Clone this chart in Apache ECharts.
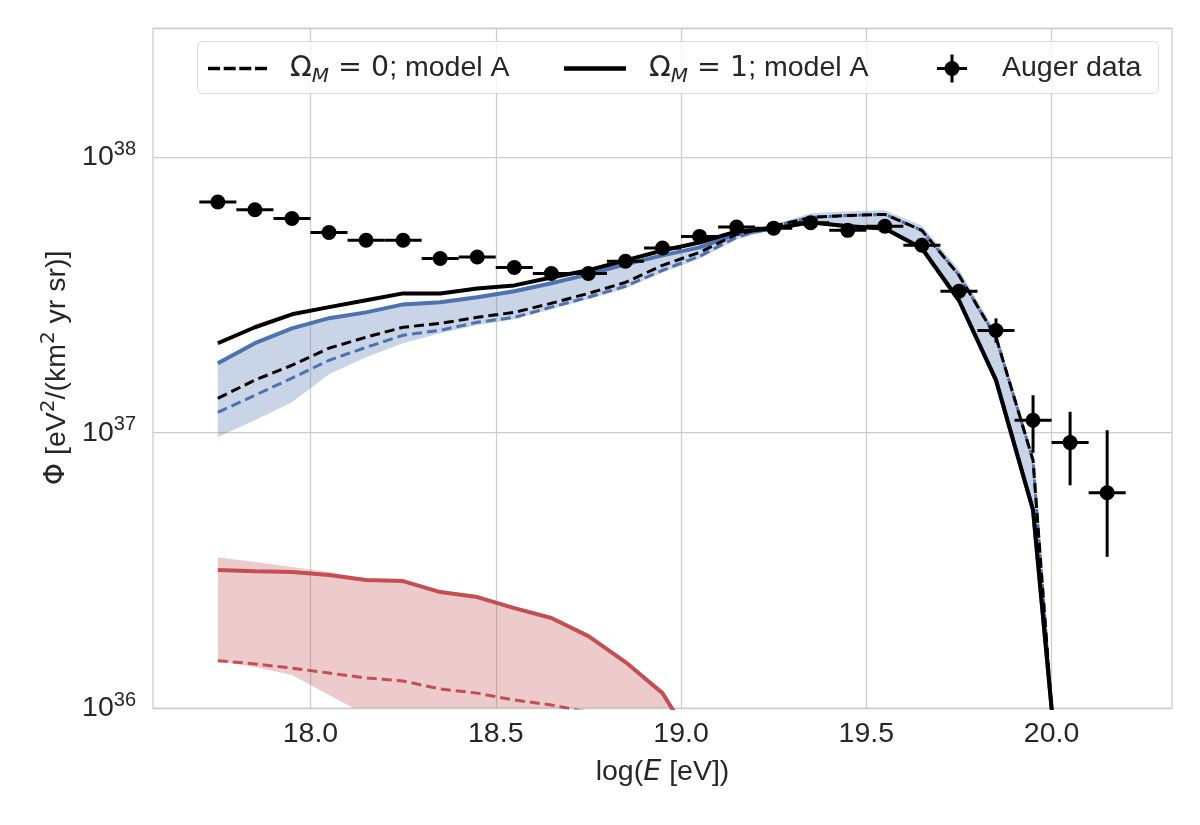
<!DOCTYPE html>
<html>
<head>
<meta charset="utf-8">
<title>Auger spectrum</title>
<script src="https://cdn.jsdelivr.net/npm/echarts@6/dist/echarts.min.js"></script>
<style>
  html, body { margin: 0; padding: 0; background: #fff; }
  #container { width: 1200px; height: 825px; }
</style>
</head>
<body>
<div id="container"></div>
<script>
// log10(E/eV) of the model points
var modelE = [17.75, 17.85, 17.95, 18.05, 18.15, 18.25, 18.35, 18.45, 18.55, 18.65, 18.75, 18.85,
              18.95, 19.05, 19.15, 19.25, 19.35, 19.45, 19.55, 19.65, 19.75, 19.85, 19.95, 20.05];

// all flux values are log10(Phi)
var omega1A = [37.325, 37.383, 37.430, 37.456, 37.481, 37.506, 37.506, 37.524, 37.535, 37.564, 37.590, 37.626,
               37.662, 37.691, 37.731, 37.742, 37.764, 37.750, 37.742, 37.670, 37.481, 37.191, 36.719, 35.281];
var omega0A = [37.125, 37.191, 37.245, 37.307, 37.347, 37.383, 37.397, 37.419, 37.437, 37.470, 37.506, 37.546,
               37.608, 37.655, 37.721, 37.750, 37.782, 37.789, 37.793, 37.735, 37.572, 37.347, 36.900, 35.100];
var blueSolid = [37.252, 37.325, 37.379, 37.416, 37.437, 37.466, 37.474, 37.492, 37.514, 37.543, 37.575, 37.612,
                 37.644, 37.673, 37.721, 37.742, 37.764, 37.750, 37.742, 37.670, 37.481, 37.191, 36.719, 35.281];
var blueDashed = [37.074, 37.136, 37.198, 37.263, 37.310, 37.354, 37.372, 37.401, 37.419, 37.456, 37.492, 37.532,
                  37.590, 37.641, 37.710, 37.750, 37.782, 37.789, 37.793, 37.735, 37.572, 37.347, 36.900, 35.100];
var blueUpper = [37.252, 37.325, 37.379, 37.416, 37.437, 37.466, 37.474, 37.492, 37.514, 37.543, 37.575, 37.612,
                 37.644, 37.673, 37.724, 37.756, 37.797, 37.804, 37.808, 37.753, 37.593, 37.365, 36.918, 35.120];
var blueLower = [36.984, 37.045, 37.111, 37.212, 37.274, 37.325, 37.361, 37.390, 37.412, 37.448, 37.485, 37.524,
                 37.582, 37.632, 37.702, 37.739, 37.764, 37.750, 37.742, 37.670, 37.481, 37.191, 36.719, 35.281];

var redSolid = [36.501, 36.497, 36.494, 36.483, 36.465, 36.461, 36.421, 36.403, 36.363, 36.327, 36.261, 36.167, 36.054, 35.837];
var redDashed = [36.172, 36.160, 36.145, 36.127, 36.109, 36.098, 36.069, 36.054, 36.029, 36.011, 35.985, 35.940];
var redUpper = [36.548, 36.530, 36.512, 36.494, 36.468, 36.465, 36.428, 36.410, 36.370, 36.334, 36.269, 36.174, 36.062, 35.850];
var redLower = [36.171, 36.149, 36.120, 36.047, 35.975, 35.884, 35.780, 35.680, 35.600, 35.500, 35.400, 35.300, 35.200, 35.100];

// Auger data
var augerE = [17.75, 17.85, 17.95, 18.05, 18.15, 18.25, 18.35, 18.45, 18.55, 18.65, 18.75, 18.85, 18.95,
              19.05, 19.15, 19.25, 19.35, 19.45, 19.55, 19.65, 19.75, 19.85, 19.95, 20.05, 20.15];
var augerFlux = [37.838, 37.810, 37.778, 37.727, 37.699, 37.699, 37.633, 37.638, 37.600, 37.578, 37.578, 37.623, 37.671,
                 37.713, 37.747, 37.743, 37.763, 37.735, 37.750, 37.681, 37.514, 37.371, 37.045, 36.964, 36.782];
var augerLo = [37.830, 37.802, 37.770, 37.719, 37.691, 37.691, 37.625, 37.630, 37.592, 37.570, 37.570, 37.615, 37.663,
               37.705, 37.739, 37.735, 37.755, 37.727, 37.740, 37.670, 37.497, 37.327, 36.927, 36.809, 36.549];
var augerHi = [37.846, 37.818, 37.786, 37.735, 37.707, 37.707, 37.641, 37.646, 37.608, 37.586, 37.586, 37.631, 37.679,
               37.721, 37.755, 37.751, 37.771, 37.743, 37.760, 37.692, 37.531, 37.415, 37.136, 37.076, 37.009];
var augerBinHalf = 0.05;

var xTicks = [18.0, 18.5, 19.0, 19.5, 20.0];

var BLUE = '#4C72B0';
var RED = '#C44E52';
var TEXT = '#262626';
var GRID = '#cccccc';
var FONT = "'Liberation Sans', Arial, sans-serif";
var MATH = "'DejaVu Sans', sans-serif";
var FS = 28.5;

function pairs(xs, ys) {
	var out = [];
	for (var i = 0; i < ys.length; i++) {
		out.push([xs[i], ys[i]]);
	}
	return out;
}

function lineSeries(name, ys, color, width, dashed, z) {
	return {
		name: name,
		type: 'line',
		data: pairs(modelE, ys),
		symbol: 'none',
		z: z,
		lineStyle: { color: color, width: width, type: dashed ? [10, 5] : 'solid' },
		itemStyle: { color: color },
		silent: true
	};
}

// shaded band: one polygon, upper edge then lower edge back
function bandSeries(up, lo, fill) {
	var rows = [];
	for (var i = 0; i < up.length; i++) {
		rows.push([modelE[i], up[i], lo[i]]);
	}
	return {
		type: 'custom',
		data: rows,
		encode: { x: 0, y: 1 },
		clip: true,
		z: 1,
		silent: true,
		renderItem: function (params, api) {
			if (params.dataIndex !== 0) {
				return;
			}
			var pts = [];
			for (var j = 0; j < up.length; j++) {
				pts.push(api.coord([modelE[j], up[j]]));
			}
			for (var k = lo.length - 1; k >= 0; k--) {
				pts.push(api.coord([modelE[k], lo[k]]));
			}
			return { type: 'polygon', shape: { points: pts }, style: { fill: fill } };
		}
	};
}

var errRows = [];
for (var i = 0; i < augerE.length; i++) {
	errRows.push([augerE[i], augerFlux[i], augerLo[i], augerHi[i]]);
}

function renderErr(params, api) {
	var x = api.value(0), y = api.value(1);
	var a = api.coord([x - augerBinHalf, y]);
	var b = api.coord([x + augerBinHalf, y]);
	var c = api.coord([x, api.value(2)]);
	var d = api.coord([x, api.value(3)]);
	var st = { stroke: '#000', lineWidth: 3 };
	return {
		type: 'group',
		children: [
			{ type: 'line', shape: { x1: a[0], y1: a[1], x2: b[0], y2: b[1] }, style: st },
			{ type: 'line', shape: { x1: c[0], y1: c[1], x2: d[0], y2: d[1] }, style: st }
		]
	};
}

var supRich = {
	t: { fontSize: FS, lineHeight: 36, color: TEXT, fontFamily: FONT },
	g: { fontSize: FS, lineHeight: 36, color: TEXT, fontFamily: MATH },
	s: { fontSize: 20, lineHeight: 20, verticalAlign: 'top', color: TEXT, fontFamily: FONT },
	d: { fontSize: 20, lineHeight: 20, verticalAlign: 'top', color: TEXT, fontFamily: MATH }
};
var subRich = {
	t: { fontSize: FS, lineHeight: 36, color: TEXT, fontFamily: FONT },
	g: { fontSize: FS, lineHeight: 36, color: TEXT, fontFamily: MATH },
	m: { fontSize: 20, lineHeight: 20, verticalAlign: 'bottom', fontStyle: 'italic', color: TEXT, fontFamily: MATH }
};

var legendNames = {
	'omega0': '{g|Ω}{m|M}{g| = 0}{t|; model A}',
	'omega1': '{g|Ω}{m|M}{g| = 1}{t|; model A}'
};

var dom = document.getElementById('container');
var myChart = echarts.init(dom, null, { renderer: 'canvas' });

var series = [];
series.push(bandSeries(blueUpper, blueLower, 'rgba(76,114,176,0.3)'));
series.push(bandSeries(redUpper, redLower, 'rgba(196,78,82,0.3)'));
series.push(lineSeries('redDashed', redDashed, RED, 3, true, 2));
series.push(lineSeries('redSolid', redSolid, RED, 4, false, 2));
series.push(lineSeries('blueSolid', blueSolid, BLUE, 4, false, 2));
series.push(lineSeries('blueDashed', blueDashed, BLUE, 3, true, 2));
series.push(lineSeries('omega1', omega1A, '#000', 4, false, 3));
series.push(lineSeries('omega0', omega0A, '#000', 3, true, 3));
series.push({
	type: 'custom',
	name: 'Auger data',
	data: errRows,
	renderItem: renderErr,
	encode: { x: 0, y: 1 },
	clip: true,
	z: 4,
	silent: true
});
series.push({
	type: 'scatter',
	name: 'Auger data',
	data: pairs(augerE, augerFlux),
	symbol: 'circle',
	symbolSize: 15,
	itemStyle: { color: '#000', opacity: 1 },
	z: 5,
	silent: true
});

var option = {
	animation: false,
	backgroundColor: '#fff',
	textStyle: { fontFamily: FONT, color: TEXT },
	grid: {
		left: 153, right: 28, top: 28, bottom: 117,
		show: true, borderColor: GRID, borderWidth: 1.25,
		outerBoundsMode: 'none'
	},
	graphic: [{
		type: 'rect',
		z: 3,
		shape: { x: 197.5, y: 41.5, width: 961, height: 52, r: 5 },
		style: { fill: 'rgba(255,255,255,0.8)', stroke: '#dcdcdc', lineWidth: 1 }
	}],
	legend: [{
		data: [{ name: 'omega0', icon: 'path://M0,0H12V3.5H0Z M15.7,0H27.7V3.5H15.7Z M31.3,0H43.3V3.5H31.3Z M47,0H59V3.5H47Z' }],
		left: 208, top: 54, padding: 0, z: 6,
		itemWidth: 59, itemHeight: 3.5,
		itemStyle: { color: '#000' },
		formatter: function (n) { return legendNames[n]; },
		textStyle: { padding: [0, 0, 0, 18], rich: subRich }
	}, {
		data: [{ name: 'omega1', icon: 'path://M0,0H62V4.5H0Z' }],
		left: 564, top: 54, padding: 0, z: 6,
		itemWidth: 62, itemHeight: 4.5,
		itemStyle: { color: '#000' },
		formatter: function (n) { return legendNames[n]; },
		textStyle: { padding: [0, 0, 0, 18], rich: subRich }
	}, {
		data: [{ name: 'Auger data',
			icon: 'path://M0,12.5H30V15.5H0Z M13.5,0H16.5V28H13.5Z M7.5,14A7.5,7.5 0 1,1 22.5,14A7.5,7.5 0 1,1 7.5,14Z' }],
		left: 937, top: 54, padding: 0, z: 6,
		itemWidth: 30, itemHeight: 28,
		itemStyle: { color: '#000' },
		formatter: function (n) { return '{t|' + n + '}'; },
		textStyle: { padding: [0, 0, 0, 30], rich: subRich }
	}],
	xAxis: {
		type: 'value',
		min: 17.575,
		max: 20.325,
		name: '{t|log(}{i|E}{t| [eV])}',
		nameLocation: 'middle',
		nameGap: 50,
		nameTextStyle: {
			rich: {
				t: { fontSize: FS, color: TEXT, fontFamily: FONT },
				i: { fontSize: FS, fontStyle: 'italic', color: TEXT, fontFamily: MATH }
			}
		},
		axisLine: { show: false },
		axisTick: { show: false, customValues: xTicks },
		axisLabel: {
			customValues: xTicks,
			margin: 12,
			fontSize: FS,
			color: TEXT,
			formatter: function (v) { return v.toFixed(1); }
		},
		splitLine: { show: true, lineStyle: { color: GRID, width: 1.25 } }
	},
	yAxis: {
		type: 'value',
		min: 36,
		max: 38.47,
		interval: 1,
		name: '{g|Φ}{t| [eV}{d|2}{t|/(km}{d|2}{t| yr sr)]}',
		nameLocation: 'middle',
		nameRotate: 90,
		nameGap: 68,
		nameTextStyle: { rich: supRich },
		axisLine: { show: false },
		axisTick: { show: false },
		axisLabel: {
			margin: 17,
			showMaxLabel: false,
			formatter: function (v) { return '{t|10}{s|' + Math.round(v) + '}'; },
			rich: supRich
		},
		splitLine: { show: true, lineStyle: { color: GRID, width: 1.25 } }
	},
	series: series
};

if (option && typeof option === 'object') {
	myChart.setOption(option, true);
}
</script>
</body>
</html>
